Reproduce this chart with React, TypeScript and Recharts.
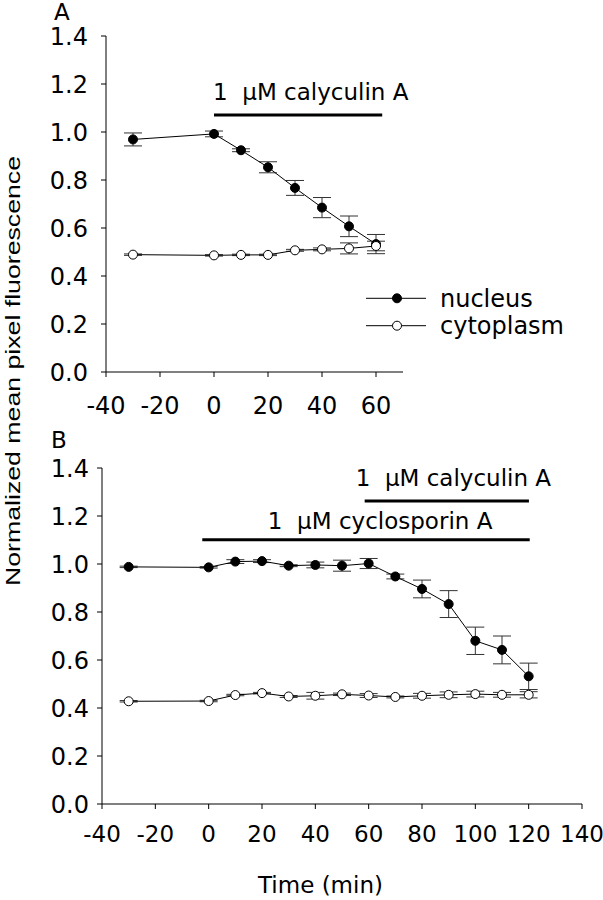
import React from 'react'
import { LineChart, Line, XAxis, YAxis, ErrorBar, ReferenceLine, Legend } from 'recharts'

const FONT = '"DejaVu Sans", sans-serif'
const LABEL_FONT = '"Liberation Sans", Arial, sans-serif'

// panel A: calyculin only
const timeA = [-30, 0, 10, 20, 30, 40, 50, 60]
const nucleusA = [0.969, 0.992, 0.924, 0.853, 0.767, 0.685, 0.607, 0.533]
const nucleusErrA = [0.027, 0.012, 0.006, 0.023, 0.031, 0.042, 0.043, 0.04]
const cytoA = [0.489, 0.486, 0.488, 0.488, 0.507, 0.511, 0.515, 0.525]
const cytoErrA = [0.003, 0.003, 0.003, 0.003, 0.004, 0.006, 0.023, 0.02]

// panel B: cyclosporin, then calyculin
const timeB = [-30, 0, 10, 20, 30, 40, 50, 60, 70, 80, 90, 100, 110, 120]
const nucleusB = [0.988, 0.986, 1.01, 1.012, 0.993, 0.996, 0.993, 1.002, 0.948, 0.896, 0.833, 0.68, 0.642, 0.532]
const nucleusErrB = [0.003, 0.003, 0.008, 0.006, 0.004, 0.012, 0.023, 0.021, 0.01, 0.037, 0.056, 0.057, 0.058, 0.055]
const cytoB = [0.428, 0.429, 0.454, 0.462, 0.448, 0.451, 0.457, 0.452, 0.446, 0.451, 0.455, 0.458, 0.455, 0.455]
const cytoErrB = [0.003, 0.003, 0.003, 0.003, 0.004, 0.014, 0.005, 0.008, 0.004, 0.01, 0.012, 0.012, 0.01, 0.013]

const yTicks = [0, 0.2, 0.4, 0.6, 0.8, 1.0, 1.2, 1.4]
const xTicksA = [-40, -20, 0, 20, 40, 60]
const xTicksB = [-40, -20, 0, 20, 40, 60, 80, 100, 120, 140]

const seriesNames = ['nucleus', 'cytoplasm']

// treatment bars (time range, height in y units)
const treatmentsA = [{ text: '1  μM calyculin A', from: 0, to: 62.3, level: 1.071 }]
const treatmentsB = [
  { text: '1  μM calyculin A', from: 58.5, to: 120.1, level: 1.2625 },
  { text: '1  μM cyclosporin A', from: -2.4, to: 120.4, level: 1.101 },
]
// pixel offsets of each treatment label from the start of its bar
const labelOffsetsA = [{ dx: -1, dy: -15 }]
const labelOffsetsB = [{ dx: -9, dy: -14.7 }, { dx: 65.6, dy: -10.7 }]

const makeRows = (t: number[], n: number[], ne: number[], c: number[], ce: number[]) =>
  t.map((time, i) => ({ time, nucleus: n[i], nucleusErr: ne[i], cyto: c[i], cytoErr: ce[i] }))

const rowsA = makeRows(timeA, nucleusA, nucleusErrA, cytoA, cytoErrA)
const rowsB = makeRows(timeB, nucleusB, nucleusErrB, cytoB, cytoErrB)

const tickStyleA = { fill: '#000', fontSize: 24, fontFamily: FONT }
const tickStyleB = { fill: '#000', fontSize: 23, fontFamily: FONT }

function treatmentLabel(text: string, dx: number, dy: number) {
  return (props: any) => {
    const vb = props.viewBox || {}
    return (
      <text
        x={(vb.x ?? 0) + dx}
        y={(vb.y ?? 0) + dy}
        fontSize={23}
        fontFamily={FONT}
        fill="#000"
        style={{ whiteSpace: 'pre' }}
      >
        {text}
      </text>
    )
  }
}

function panelLabel(letter: string, dx: number, dy: number) {
  return (props: any) => {
    const vb = props.viewBox || {}
    return (
      <text x={(vb.x ?? 0) + dx} y={(vb.y ?? 0) + dy} fontSize={23} fontFamily={FONT} fill="#000">
        {letter}
      </text>
    )
  }
}

const renderLegend = (props: any) => {
  const payload = [...(props.payload || [])].sort(
    (a: any, b: any) => seriesNames.indexOf(a.value) - seriesNames.indexOf(b.value)
  )
  return (
    <svg width={236} height={60}>
      {payload.map((entry: any, i: number) => {
        const y = 15.3 + i * 27.4
        const open = entry.value === seriesNames[1]
        return (
          <g key={`leg-${i}`}>
            <line x1={4} x2={64} y1={y} y2={y} stroke="#000" strokeWidth={1} />
            <circle cx={35} cy={y} r={4.5} fill={open ? '#fff' : '#000'} stroke="#000" strokeWidth={1} />
            <text x={78} y={y + 8.4} fontSize={24} fontFamily={FONT} fill="#000">
              {entry.value}
            </text>
          </g>
        )
      })}
    </svg>
  )
}

export default function App() {
  return (
    <div style={{ position: 'absolute', top: 0, left: 0, width: 603, height: 900, background: '#fff' }}>
      <div style={{ position: 'absolute', top: 0, left: 0 }}>
        <LineChart width={603} height={420} data={rowsA} margin={{ top: 36, right: 200, bottom: 0, left: 0 }}>
          <XAxis
            type="number"
            dataKey="time"
            domain={[-40, 70]}
            ticks={xTicksA}
            interval={0}
            height={48}
            tickSize={5}
            tickMargin={20}
            stroke="#000"
            tick={tickStyleA}
          />
          <YAxis
            type="number"
            domain={[0, 1.4]}
            ticks={yTicks}
            interval={0}
            width={106}
            tickSize={5}
            tickMargin={13}
            stroke="#000"
            tick={tickStyleA}
            tickFormatter={(v: number) => v.toFixed(1)}
            label={panelLabel('A', 54, -16)}
          />
          {treatmentsA.map((tr, i) => (
            <ReferenceLine
              key={`trA-${i}`}
              segment={[{ x: tr.from, y: tr.level }, { x: tr.to, y: tr.level }]}
              stroke="#000"
              strokeWidth={3}
              label={treatmentLabel(tr.text, labelOffsetsA[i].dx, labelOffsetsA[i].dy)}
            />
          ))}
          <Line
            dataKey="nucleus"
            name={seriesNames[0]}
            stroke="#000"
            strokeWidth={1}
            dot={{ r: 4.5, fill: '#000', stroke: '#000', strokeWidth: 1 }}
            activeDot={false}
            isAnimationActive={false}
          >
            <ErrorBar dataKey="nucleusErr" width={9} stroke="#333" strokeWidth={1} direction="y" />
          </Line>
          <Line
            dataKey="cyto"
            name={seriesNames[1]}
            stroke="#000"
            strokeWidth={1}
            dot={{ r: 4.5, fill: '#fff', stroke: '#000', strokeWidth: 1 }}
            activeDot={false}
            isAnimationActive={false}
          >
            <ErrorBar dataKey="cytoErr" width={9} stroke="#333" strokeWidth={1} direction="y" />
          </Line>
          <Legend
            layout="horizontal"
            verticalAlign="middle"
            align="center"
            content={renderLegend}
            wrapperStyle={{ top: 283, left: 362, width: 236, height: 60 }}
          />
        </LineChart>
      </div>
      <div style={{ position: 'absolute', top: 420, left: 0 }}>
        <LineChart width={603} height={480} data={rowsB} margin={{ top: 48, right: 21, bottom: 0, left: 0 }}>
          <XAxis
            type="number"
            dataKey="time"
            domain={[-40, 140]}
            ticks={xTicksB}
            interval={0}
            height={96}
            tickSize={5}
            tickMargin={17}
            stroke="#000"
            tick={tickStyleB}
            label={(props: any) => {
              const vb = props.viewBox || {}
              return (
                <text
                  x={(vb.x ?? 0) + (vb.width ?? 0) / 2 - 21.5}
                  y={(vb.y ?? 0) + 89}
                  textAnchor="middle"
                  fontSize={23}
                  fontFamily={FONT}
                  fill="#000"
                >
                  Time (min)
                </text>
              )
            }}
          />
          <YAxis
            type="number"
            domain={[0, 1.4]}
            ticks={yTicks}
            interval={0}
            width={102}
            tickSize={5}
            tickMargin={8}
            stroke="#000"
            tick={tickStyleA}
            tickFormatter={(v: number) => v.toFixed(1)}
            label={panelLabel('B', 51, -20)}
          />
          {treatmentsB.map((tr, i) => (
            <ReferenceLine
              key={`trB-${i}`}
              segment={[{ x: tr.from, y: tr.level }, { x: tr.to, y: tr.level }]}
              stroke="#000"
              strokeWidth={3}
              label={treatmentLabel(tr.text, labelOffsetsB[i].dx, labelOffsetsB[i].dy)}
            />
          ))}
          <Line
            dataKey="nucleus"
            name={seriesNames[0]}
            stroke="#000"
            strokeWidth={1}
            dot={{ r: 4.5, fill: '#000', stroke: '#000', strokeWidth: 1 }}
            activeDot={false}
            isAnimationActive={false}
          >
            <ErrorBar dataKey="nucleusErr" width={9} stroke="#333" strokeWidth={1} direction="y" />
          </Line>
          <Line
            dataKey="cyto"
            name={seriesNames[1]}
            stroke="#000"
            strokeWidth={1}
            dot={{ r: 4.5, fill: '#fff', stroke: '#000', strokeWidth: 1 }}
            activeDot={false}
            isAnimationActive={false}
          >
            <ErrorBar dataKey="cytoErr" width={9} stroke="#333" strokeWidth={1} direction="y" />
          </Line>
        </LineChart>
      </div>
      <svg width={40} height={900} style={{ position: 'absolute', top: 0, left: 0 }}>
        <text
          x={12.5}
          y={371}
          transform="rotate(-90, 12.5, 371)"
          textAnchor="middle"
          dominantBaseline="central"
          fontSize={20}
          fontFamily={LABEL_FONT}
          textLength={430}
          lengthAdjust="spacingAndGlyphs"
          fill="#000"
        >
          Normalized mean pixel fluorescence
        </text>
      </svg>
    </div>
  )
}
